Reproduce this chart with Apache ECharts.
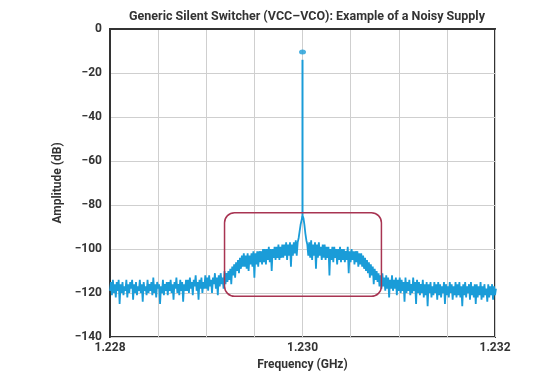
<!DOCTYPE html>
<html><head><meta charset="utf-8">
<script src="https://cdn.jsdelivr.net/npm/echarts@6/dist/echarts.min.js"></script>
<style>html,body{margin:0;padding:0;background:#fff}#c{width:559px;height:383px}</style>
</head><body><div id="c"></div>
<script>
const titleText = 'Generic Silent Switcher (VCC\u2013VCO): Example of a Noisy Supply';
const freqStart = 1.228;
const freqStep = 0.00001;
const amplitude = [
-119,-115,-121,-114,-120,-116,-122,-115,-119,-114,-125,-116,-120,-115,-121,-117,-119,-114,-122,-116,
-120,-115,-118,-114,-123,-116,-120,-115,-121,-117,-119,-114,-120,-116,-124,-115,-119,-117,-121,-114,
-120,-116,-119,-115,-121,-113,-120,-116,-122,-115,-118,-116,-125,-117,-120,-114,-121,-116,-119,-115,
-121,-115,-119,-114,-120,-116,-123,-115,-118,-113,-120,-116,-121,-114,-119,-115,-124,-116,-119,-114,
-119,-114,-120,-113,-118,-115,-121,-114,-117,-112,-119,-115,-123,-114,-118,-113,-120,-115,-118,-112,
-118,-113,-119,-112,-117,-114,-120,-113,-116,-111,-118,-113,-121,-112,-117,-111,-116,-113,-118,-110,
-116,-111,-115,-110,-114,-109,-116,-108,-112,-107,-113,-106,-110,-105,-111,-104,-109,-103,-108,-102,
-108,-103,-109,-102,-110,-103,-107,-102,-108,-101,-113,-102,-107,-101,-108,-101,-106,-101,-107,-100,
-106,-100,-107,-100,-105,-99,-106,-100,-110,-100,-104,-99,-105,-99,-104,-98,-105,-99,-104,-98,
-104,-98,-103,-97,-105,-98,-103,-97,-108,-98,-103,-97,-102,-96,-103,-97,-95,-92,-89,-87,
-85,
-86,-89,-93,-96,-98,-103,-97,-104,-96,-105,-98,-103,-97,-109,-98,-104,-97,-103,-99,-105,
-98,-104,-98,-105,-99,-104,-99,-112,-100,-105,-99,-106,-99,-104,-100,-107,-100,-105,-99,-106,
-100,-105,-100,-106,-101,-105,-99,-111,-101,-106,-100,-105,-101,-107,-101,-106,-101,-108,-102,-107,
-102,-108,-103,-109,-104,-110,-105,-111,-106,-113,-107,-112,-108,-116,-109,-114,-110,-115,-111,-117,
-112,-118,-111,-117,-113,-119,-112,-118,-113,-122,-114,-118,-112,-119,-114,-118,-113,-121,-114,-119,
-113,-120,-114,-119,-115,-124,-113,-120,-115,-119,-114,-121,-116,-120,-113,-119,-115,-125,-114,-120,
-115,-121,-116,-120,-114,-122,-116,-121,-115,-126,-116,-120,-115,-122,-117,-121,-115,-120,-116,-123,
-115,-121,-116,-122,-117,-120,-115,-125,-116,-121,-117,-122,-115,-120,-116,-123,-117,-121,-115,-122,
-116,-121,-115,-122,-117,-126,-116,-121,-115,-122,-117,-120,-116,-123,-115,-121,-117,-122,-116,-125,
-116,-122,-117,-121,-115,-123,-117,-122,-116,-121,-118,-124,-116,-122,-117,-121,-116,-123,-117,-121,
-118
];
const carrierFreq = 1.230;
const carrierBase = -86;
const carrierLineTop = -14;
const carrierPeak = -10.5;
const boxFreq = [1.22919, 1.23082];
const boxAmp = [-121.5, -83.5];

const trace = amplitude.map((v, i) => [freqStart + i * freqStep, v]);
const font = 'Roboto, "Open Sans", sans-serif';
const chart = echarts.init(document.getElementById('c'), null, {renderer: 'canvas'});
const color = '#1a9cd8';
chart.setOption({
  animation: false,
  title: {text: titleText, left: 302, top: 5, textAlign: 'center',
    textStyle: {fontFamily: font, fontSize: 12.5, fontWeight: 'bold', color: '#333'}},
  grid: {left: 110, right: 64, top: 29, bottom: 46, show: true, borderColor: '#333', borderWidth: 2},
  xAxis: {type: 'value', min: 1.228, max: 1.232, interval: 0.0005,
    name: 'Frequency (GHz)', nameLocation: 'middle', nameGap: 20,
    nameTextStyle: {fontFamily: font, fontSize: 12, fontWeight: 'bold', color: '#333'},
    axisLine: {show: true, lineStyle: {color: '#333', width: 2}},
    axisTick: {show: false},
    splitLine: {show: true, lineStyle: {color: '#cfcfcf', width: 1}},
    axisLabel: {fontFamily: font, fontSize: 12, fontWeight: 'bold', color: '#333', margin: 5,
      showMinLabel: true, showMaxLabel: true,
      formatter: v => { const k = Math.round(v * 10000); return (k % 20 === 0) ? v.toFixed(3) : ''; }}
  },
  yAxis: {type: 'value', min: -140, max: 0, interval: 20,
    name: 'Amplitude (dB)', nameLocation: 'middle', nameGap: 44, nameRotate: 90,
    nameTextStyle: {fontFamily: font, fontSize: 12, fontWeight: 'bold', color: '#333'},
    axisLine: {show: true, lineStyle: {color: '#333', width: 2}},
    axisTick: {show: false},
    splitLine: {show: true, lineStyle: {color: '#cfcfcf', width: 1}},
    axisLabel: {fontFamily: font, fontSize: 12, fontWeight: 'bold', color: '#333', margin: 8,
      formatter: v => v < 0 ? '\u2212' + Math.abs(v) : String(v)}
  },
  series: [
    {type: 'line', data: trace, showSymbol: false, lineStyle: {color: color, width: 1.8}, z: 2},
    {type: 'line', data: [[carrierFreq, carrierBase], [carrierFreq, carrierLineTop]], showSymbol: false,
      lineStyle: {color: color, width: 2}, z: 2},
    {type: 'scatter', data: [[carrierFreq, carrierPeak]], symbol: 'circle', symbolSize: [7, 5],
      itemStyle: {color: color}, z: 3}
  ]
});
const p0 = chart.convertToPixel({gridIndex: 0}, [boxFreq[0], boxAmp[1]]);
const p1 = chart.convertToPixel({gridIndex: 0}, [boxFreq[1], boxAmp[0]]);
chart.setOption({graphic: [{type: 'rect', z: 10,
  shape: {x: p0[0], y: p0[1], width: p1[0] - p0[0], height: p1[1] - p0[1], r: 10},
  style: {fill: null, stroke: '#a83452', lineWidth: 1.5}}]});
</script></body></html>
